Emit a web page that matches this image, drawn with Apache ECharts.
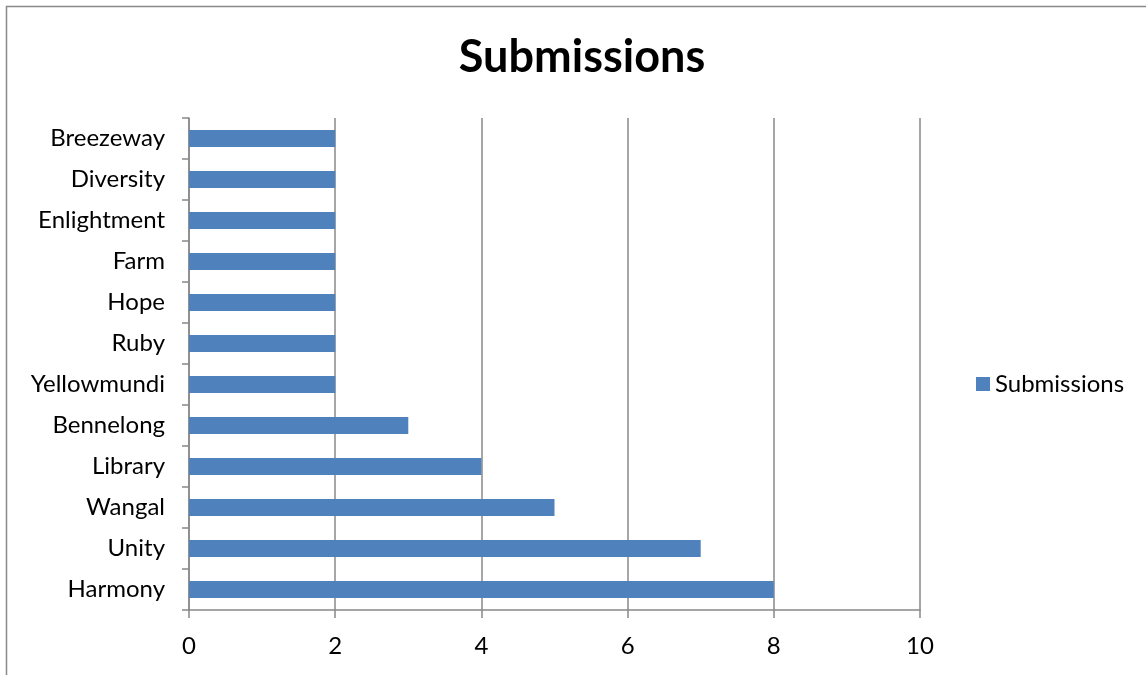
<!DOCTYPE html>
<html>
<head>
<meta charset="utf-8">
<script src="https://cdn.jsdelivr.net/npm/echarts@6/dist/echarts.min.js"></script>
<style>html,body{margin:0;padding:0;background:#fff}#c{width:1146px;height:675px}</style>
</head>
<body>
<div id="c"></div>
<script>
const categories = ['Harmony','Unity','Wangal','Library','Bennelong','Yellowmundi','Ruby','Hope','Farm','Enlightment','Diversity','Breezeway'];
const submissions = [8,7,5,4,3,2,2,2,2,2,2,2];
const xTicks = [0,2,4,6,8,10];
const seriesName = 'Submissions';
const titleText = 'Submissions';

const chart = echarts.init(document.getElementById('c'), null, {renderer:'canvas'});
const font = 'Lato, "Open Sans", sans-serif';
chart.setOption({
  animation:false,
  backgroundColor:'#fff',
  graphic:[{type:'rect', shape:{x:6.5,y:6.5,width:1160,height:700}, style:{fill:'none',stroke:'#898989',lineWidth:1.5}, silent:true}],
  title:{text:titleText, left:582, textAlign:'center', top:35, padding:0, textStyle:{fontFamily:font, fontWeight:'bold', fontSize:45, color:'#000'}},
  legend:{data:[seriesName], left:976, top:372, padding:0, itemWidth:14, itemHeight:14, itemGap:8, textStyle:{fontFamily:font, fontSize:24, color:'#000'}, icon:'rect'},
  grid:{left:189, right:226, top:118, bottom:65, containLabel:false},
  xAxis:{type:'value', min:xTicks[0], max:xTicks[xTicks.length-1], interval:2,
    axisLine:{show:true, lineStyle:{color:'#888', width:1.5}},
    axisTick:{show:true, length:8, lineStyle:{color:'#888', width:1.5}},
    axisLabel:{fontFamily:font, fontSize:24, color:'#000', margin:24},
    splitLine:{show:true, lineStyle:{color:'#888', width:1.5}}},
  yAxis:{type:'category', data:categories,
    axisLine:{show:true, lineStyle:{color:'#888', width:1.5}},
    axisTick:{show:true, length:7, alignWithLabel:false, lineStyle:{color:'#888', width:1.5}},
    axisLabel:{fontFamily:font, fontSize:24, color:'#000', margin:24}},
  series:[{name:seriesName, type:'bar', data:submissions, barWidth:17, itemStyle:{color:'#4F81BD'}}]
});
</script>
</body>
</html>
